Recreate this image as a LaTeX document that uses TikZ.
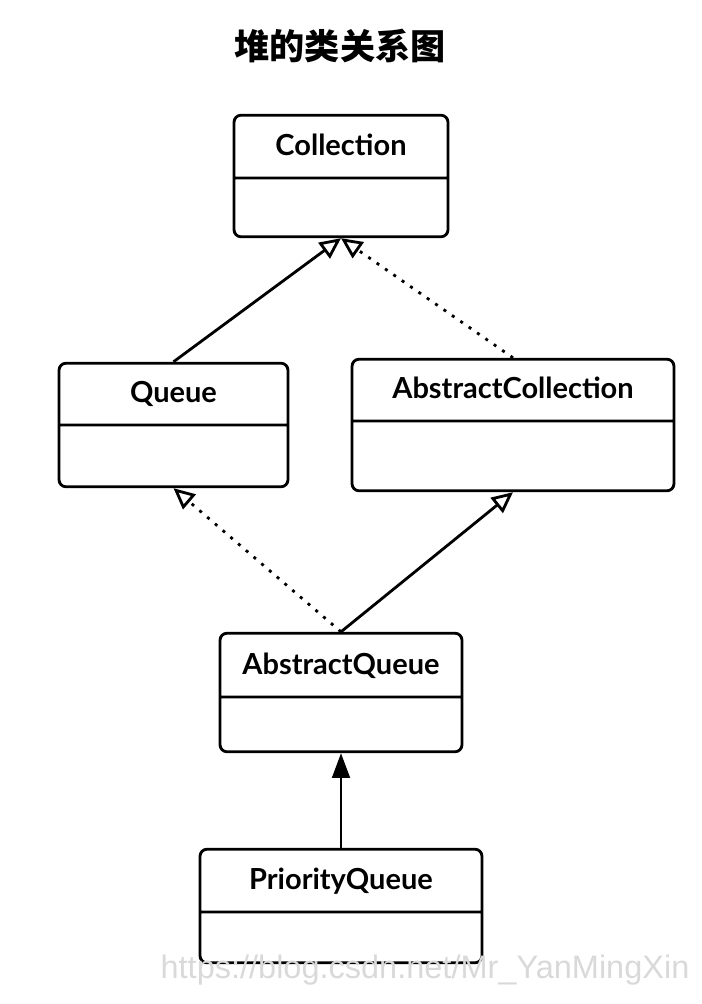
\documentclass[tikz,border=0pt]{standalone}
\usepackage{fontspec}
\setmainfont{Lato}
\newfontfamily\cjk{Noto Sans CJK SC}
\newfontfamily\wmfont{Liberation Sans}
\usetikzlibrary{shapes.multipart,arrows.meta}

\tikzset{
  cls/.style={draw, line width=1.6pt, rounded corners=4pt, rectangle split, rectangle split parts=2,
    inner sep=0pt, align=center, font=\fontsize{16.5}{19}\selectfont\bfseries},
  inherit/.style={-{Triangle[open,length=12pt,width=11pt,line width=1.6pt]}, line width=1.6pt},
  realize/.style={inherit, dash pattern=on 1.7pt off 4.1pt},
  assoc/.style={-{Triangle[length=14pt,width=10pt]}, line width=1.6pt}
}

\begin{document}
\begin{tikzpicture}[x=0.02cm, y=-0.02cm]
    \useasboundingbox (0,0) rectangle (702,1004);

    \node[font=\cjk\bfseries\fontsize{20}{24}\selectfont] at (340,46) (t) {堆的类关系图};

    \node[cls, text width=42.8mm] at (341,176) (1) {Collection\rule[-4.2mm]{0pt}{12mm}\nodepart{second}\rule{0pt}{11.2mm}};
    \node[cls, text width=45.8mm] at (173.5,425) (2) {Queue\rule[-4.2mm]{0pt}{11.8mm}\nodepart{second}\rule{0pt}{11.8mm}};
    \node[cls, text width=64.4mm] at (513,425) (3) {AbstractCollection\rule[-4.2mm]{0pt}{11.8mm}\nodepart{second}\rule{0pt}{13.4mm}};
    \node[cls, text width=48.4mm] at (341,692.5) (4) {AbstractQueue\rule[-4.2mm]{0pt}{12.2mm}\nodepart{second}\rule{0pt}{10.4mm}};
    \node[cls, text width=56.4mm] at (341,906) (5) {PriorityQueue\rule[-4.2mm]{0pt}{12mm}\nodepart{second}\rule{0pt}{9.6mm}};

    \draw[inherit] (2.north) to (1.south);
    \draw[realize] (3.north) to (1.south);
    \draw[realize] (4.north) to (2.south);
    \draw[inherit] (4.north) to (3.south);
    \draw[assoc] (5.north) to (4.south);

    \node[font=\wmfont\fontsize{18.5}{22}\selectfont, text=gray!30] at (425,970) (w) {https://blog.csdn.net/Mr\_YanMingXin};
  \end{tikzpicture}
\end{document}
